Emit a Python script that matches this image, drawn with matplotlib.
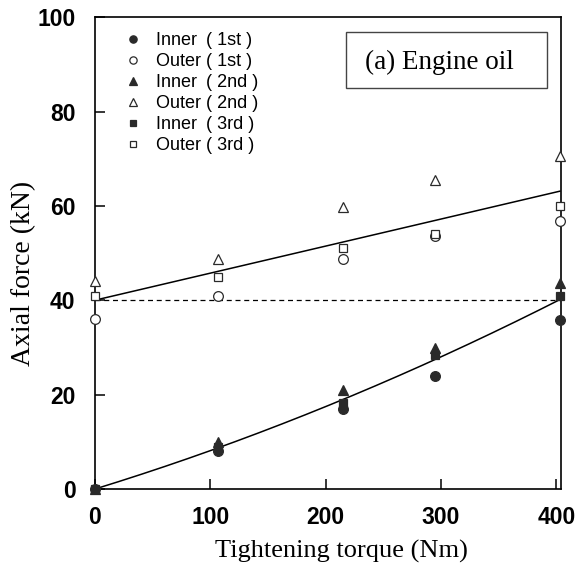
import matplotlib.pyplot as plt
from matplotlib.patches import Rectangle
import numpy as np

# tightening torque (Nm) and axial forces (kN)
torque = [0, 107, 215, 295, 403]

inner_1st = [0, 8.1, 17.0, 24.0, 35.9]
outer_1st = [36.0, 41.0, 48.8, 53.7, 56.9]
inner_2nd = [0, 10.0, 21.0, 30.0, 43.7]
outer_2nd = [44.0, 48.8, 59.7, 65.6, 70.5]
inner_3rd = [0, 9.0, 18.3, 28.4, 41.0]
outer_3rd = [41.0, 45.0, 51.0, 54.0, 59.9]

labels = ['Inner\u2002( 1st )', 'Outer ( 1st )', 'Inner\u2002( 2nd )',
          'Outer ( 2nd )', 'Inner\u2002( 3rd )', 'Outer ( 3rd )']
initial_force = 40

plt.rcParams['font.family'] = ['Liberation Sans', 'DejaVu Sans']
serif = ['Liberation Serif', 'DejaVu Serif']

fig = plt.figure(figsize=(5.79, 5.76), dpi=100)
ax = fig.add_axes([0.164, 0.151, 0.805, 0.819])

dark = '#2a2a2a'
series = [
    (inner_1st, 'o', dark, dark),
    (outer_1st, 'o', 'white', dark),
    (inner_2nd, '^', dark, dark),
    (outer_2nd, '^', 'white', dark),
    (inner_3rd, 's', dark, dark),
    (outer_3rd, 's', 'white', dark),
]
for (vals, m, fc, ec), lab in zip(series, labels):
    ax.plot(torque, vals, linestyle='none', marker=m, markersize=7 if m != 's' else 6,
            markerfacecolor=fc, markeredgecolor=ec, markeredgewidth=0.9,
            label=lab, clip_on=False, zorder=3)

# fitted lines
x = np.array(torque * 3, dtype=float)
xs = np.linspace(0, 403, 200)
outer_all = np.array(outer_1st + outer_2nd + outer_3rd)
inner_all = np.array(inner_1st + inner_2nd + inner_3rd)
p_out = np.polyfit(x, outer_all, 1)
ax.plot(xs, np.polyval(p_out, xs), color='black', lw=1.1, zorder=2)
# quadratic through origin
A = np.vstack([x, x ** 2]).T
coef, *_ = np.linalg.lstsq(A, inner_all, rcond=None)
ax.plot(xs, coef[0] * xs + coef[1] * xs ** 2, color='black', lw=1.1, zorder=2)

ax.axhline(initial_force, color='black', lw=0.9, ls=(0, (4, 3)), zorder=1)

ax.set_xlim(0, 404)
ax.set_ylim(0, 100)
ax.set_xticks([0, 100, 200, 300, 400])
ax.set_yticks([0, 20, 40, 60, 80, 100])
ax.tick_params(direction='in', length=7, width=1.1, labelsize=16.5)
ax.tick_params(axis='x', pad=12)
ax.tick_params(axis='y', pad=14)
for t in ax.get_xticklabels() + ax.get_yticklabels():
    t.set_fontweight('bold')
for s in ax.spines.values():
    s.set_linewidth(1.2)

fig.text(0.590, 0.043, 'Tightening torque (Nm)', family=serif, fontsize=19,
         ha='center', va='center')
fig.text(0.040, 0.526, 'Axial force (kN)', family=serif, fontsize=20,
         ha='center', va='center', rotation=90)

ax.legend(loc='upper left', bbox_to_anchor=(0.062, 0.968), frameon=False,
          fontsize=13, handlelength=1.0, handletextpad=0.8, labelspacing=0.22,
          markerscale=0.75, borderaxespad=0, borderpad=0)

ax.add_patch(Rectangle((0.539, 0.850), 0.431, 0.118, transform=ax.transAxes,
                       facecolor='white', edgecolor='#444444', lw=1.0, zorder=4))
ax.text(0.740, 0.905, '(a) Engine oil', transform=ax.transAxes,
        family=serif, fontsize=19.5, va='center', ha='center', zorder=5)

fig.savefig('out.png', dpi=100)
